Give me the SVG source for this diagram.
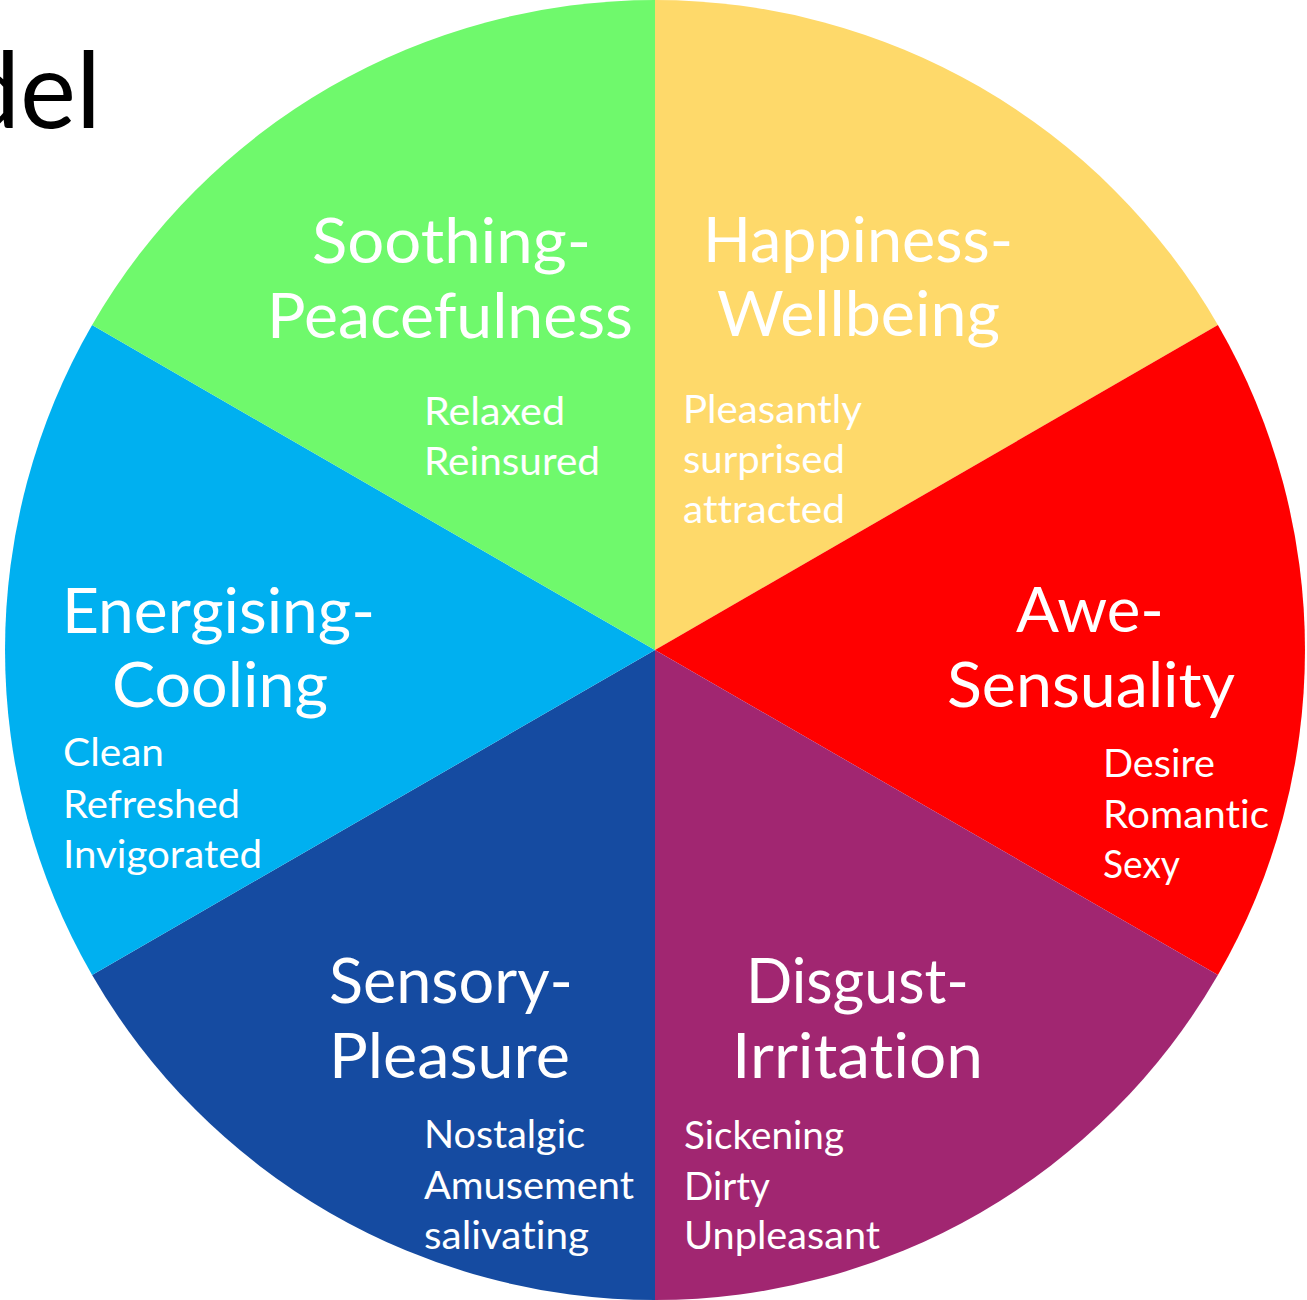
<svg xmlns="http://www.w3.org/2000/svg" width="1307" height="1300" viewBox="0 0 1307 1300">
<style>
.t{font-family:Lato,"Open Sans","Liberation Sans",sans-serif;fill:#fff;font-variant-ligatures:none;font-feature-settings:"liga" 0,"clig" 0}
.m{font-size:61px}
.s{font-size:39px}
</style>
<rect width="1307" height="1300" fill="#fff"/>
<text x="101" y="128" text-anchor="end" font-family="Lato,'Open Sans','Liberation Sans',sans-serif" font-size="106" fill="#000">del</text>
<g id="happiness">
<path d="M655,650 L655,0 A650,650 0 0 1 1217.9,325 Z" fill="#FED96A"/>
<text class="t m" x="703" y="262" textLength="310" lengthAdjust="spacingAndGlyphs">Happiness-</text>
<text class="t m" x="717" y="336" textLength="283" lengthAdjust="spacingAndGlyphs">Wellbeing</text>
<text class="t s" x="683" y="423" textLength="179" lengthAdjust="spacingAndGlyphs">Pleasantly</text>
<text class="t s" x="683" y="473" textLength="162" lengthAdjust="spacingAndGlyphs">surprised</text>
<text class="t s" x="683" y="523" textLength="162" lengthAdjust="spacingAndGlyphs">attracted</text>
</g>
<g id="awe">
<path d="M655,650 L1217.9,325 A650,650 0 0 1 1217.9,975 Z" fill="#FF0000"/>
<text class="t m" x="1016" y="632" textLength="148" lengthAdjust="spacingAndGlyphs">Awe-</text>
<text class="t m" x="947" y="707" textLength="288" lengthAdjust="spacingAndGlyphs">Sensuality</text>
<text class="t s" x="1103" y="777" textLength="112" lengthAdjust="spacingAndGlyphs">Desire</text>
<text class="t s" x="1103" y="828" textLength="166" lengthAdjust="spacingAndGlyphs">Romantic</text>
<text class="t s" x="1103" y="878" textLength="77" lengthAdjust="spacingAndGlyphs">Sexy</text>
</g>
<g id="disgust">
<path d="M655,650 L1217.9,975 A650,650 0 0 1 655,1300 Z" fill="#A12671"/>
<text class="t m" x="746" y="1003" textLength="223" lengthAdjust="spacingAndGlyphs">Disgust-</text>
<text class="t m" x="732" y="1078" textLength="251" lengthAdjust="spacingAndGlyphs">Irritation</text>
<text class="t s" x="684" y="1149" textLength="160" lengthAdjust="spacingAndGlyphs">Sickening</text>
<text class="t s" x="684" y="1200" textLength="86" lengthAdjust="spacingAndGlyphs">Dirty</text>
<text class="t s" x="684" y="1249" textLength="196" lengthAdjust="spacingAndGlyphs">Unpleasant</text>
</g>
<g id="sensory">
<path d="M655,650 L655,1300 A650,650 0 0 1 92.1,975 Z" fill="#154BA1"/>
<text class="t m" x="329" y="1003" textLength="244" lengthAdjust="spacingAndGlyphs">Sensory-</text>
<text class="t m" x="329" y="1078" textLength="241" lengthAdjust="spacingAndGlyphs">Pleasure</text>
<text class="t s" x="424" y="1148" textLength="161" lengthAdjust="spacingAndGlyphs">Nostalgic</text>
<text class="t s" x="424" y="1199" textLength="210" lengthAdjust="spacingAndGlyphs">Amusement</text>
<text class="t s" x="424" y="1249" textLength="165" lengthAdjust="spacingAndGlyphs">salivating</text>
</g>
<g id="energising">
<path d="M655,650 L92.1,975 A650,650 0 0 1 92.1,325 Z" fill="#00B0F0"/>
<text class="t m" x="62" y="633" textLength="313" lengthAdjust="spacingAndGlyphs">Energising-</text>
<text class="t m" x="112" y="707" textLength="216" lengthAdjust="spacingAndGlyphs">Cooling</text>
<text class="t s" x="63" y="766" textLength="101" lengthAdjust="spacingAndGlyphs">Clean</text>
<text class="t s" x="63" y="818" textLength="177" lengthAdjust="spacingAndGlyphs">Refreshed</text>
<text class="t s" x="63" y="868" textLength="199" lengthAdjust="spacingAndGlyphs">Invigorated</text>
</g>
<g id="soothing">
<path d="M655,650 L92.1,325 A650,650 0 0 1 655,0 Z" fill="#6FF96C"/>
<text class="t m" x="312" y="263" textLength="279" lengthAdjust="spacingAndGlyphs">Soothing-</text>
<text class="t m" x="267" y="338" textLength="366" lengthAdjust="spacingAndGlyphs">Peacefulness</text>
<text class="t s" x="424" y="425" textLength="141" lengthAdjust="spacingAndGlyphs">Relaxed</text>
<text class="t s" x="424" y="475" textLength="176" lengthAdjust="spacingAndGlyphs">Reinsured</text>
</g>
<g id="connectors"/>
</svg>
